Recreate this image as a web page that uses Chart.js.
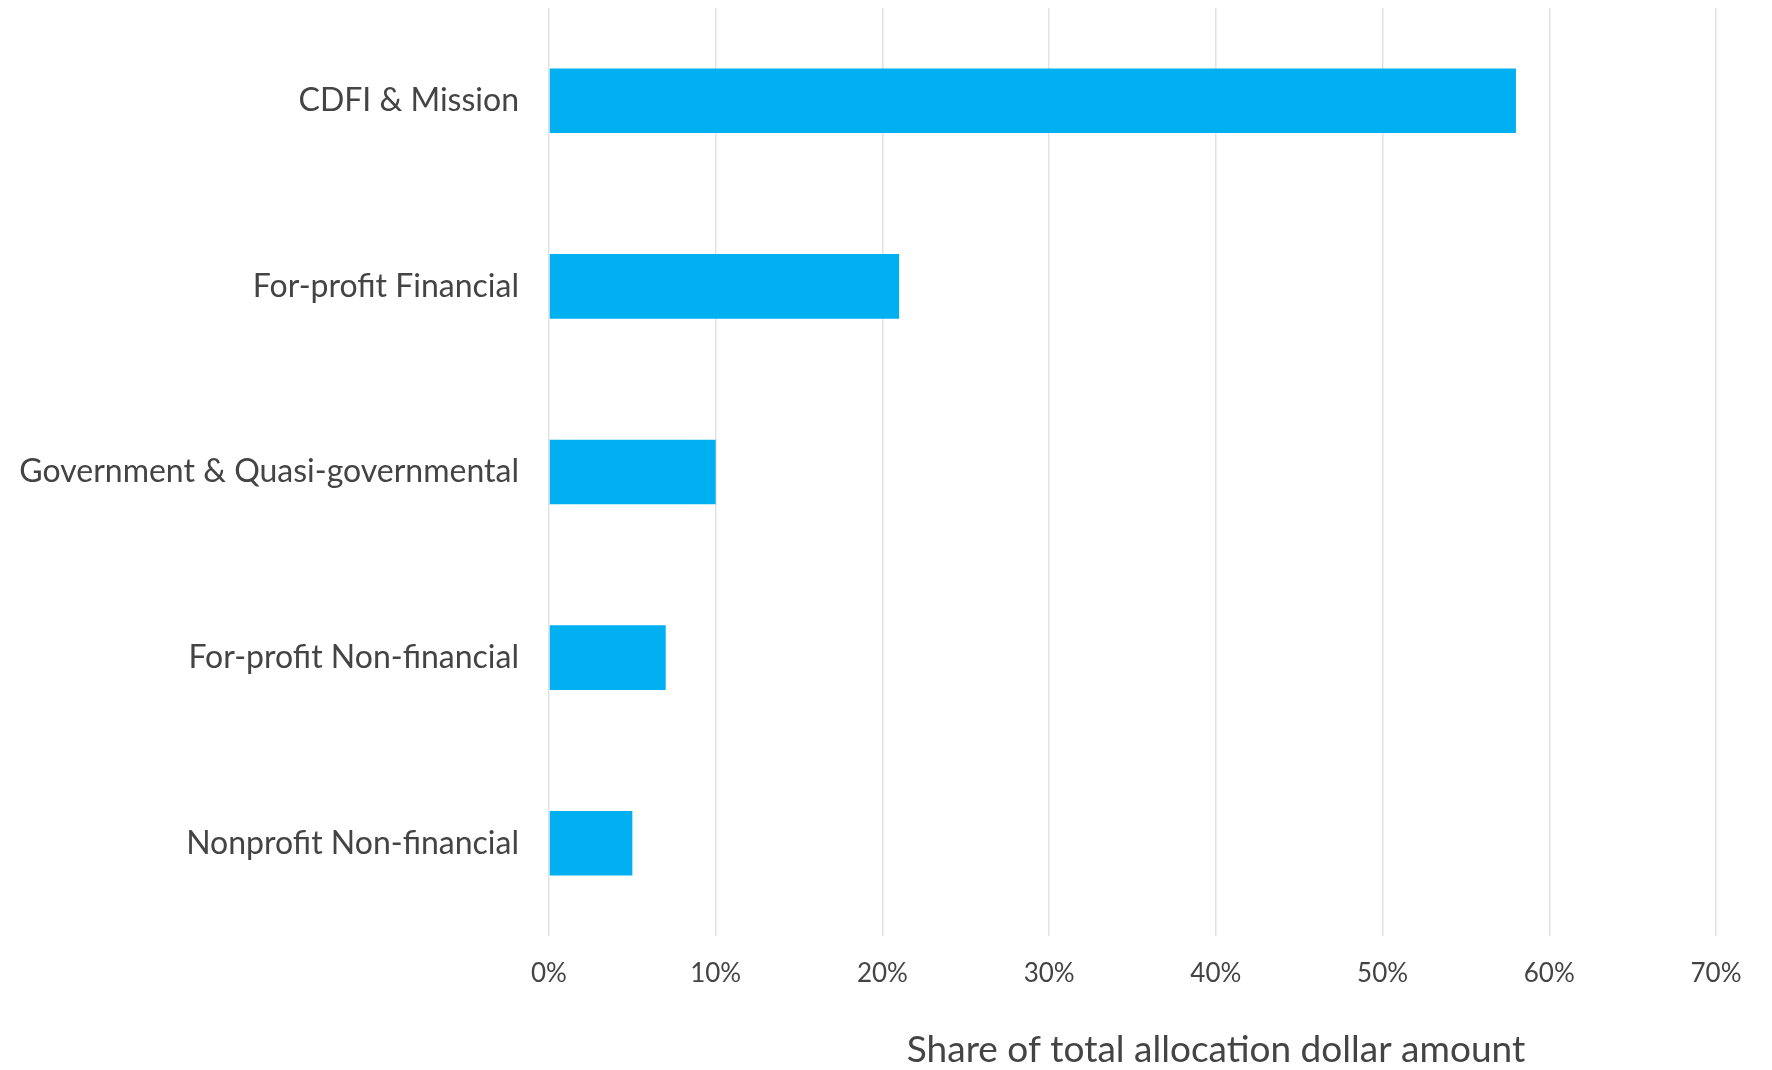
<!DOCTYPE html>
<html lang="en">
<head>
  <meta charset="UTF-8">
  <title>Share of Total Allocation by Organization Type</title>
  <script src="https://cdn.jsdelivr.net/npm/chart.js"></script>
  <style>
    html, body {
      margin: 0;
      padding: 0;
      background: #ffffff;
    }

    #chart-wrap {
      width: 1772px;
      height: 1070px;
      position: relative;
    }
  </style>
</head>
<body>
  <div id="chart-wrap">
    <canvas id="allocationChart"></canvas>
  </div>

  <script>
    const categories = [
      'CDFI & Mission',
      'For-profit Financial',
      'Government & Quasi-governmental',
      'For-profit Non-financial',
      'Nonprofit Non-financial'
    ];
    const shareValues = [58, 21, 10, 7, 5];
    const tickValues = [0, 10, 20, 30, 40, 50, 60, 70];
    const axisTitle = 'Share of total allocation dollar amount';

    const textColor = '#444444';
    const fontFamily = "Lato, 'Open Sans', sans-serif";

    // axis title sits below the ticks, shifted right of the plot centre
    const axisTitlePlugin = {
      id: 'axisTitle',
      afterDraw(chart) {
        const { ctx, chartArea } = chart;
        ctx.save();
        ctx.font = '37px ' + fontFamily;
        ctx.fillStyle = textColor;
        ctx.textAlign = 'center';
        ctx.textBaseline = 'alphabetic';
        ctx.fillText(axisTitle, chartArea.left + 667, chart.height - 8);
        ctx.restore();
      }
    };

    const chartConfig = {
      type: 'bar',
      data: {
        labels: categories,
        datasets: [{
          label: 'Share',
          data: shareValues,
          backgroundColor: '#00B0F0',
          borderWidth: 0,
          categoryPercentage: 1,
          barPercentage: 0.348
        }]
      },
      options: {
        indexAxis: 'y',
        responsive: true,
        maintainAspectRatio: false,
        animation: false,
        layout: {
          padding: { top: 8, right: 56, left: 0, bottom: 0 }
        },
        plugins: {
          legend: { display: false },
          tooltip: { enabled: false }
        },
        scales: {
          x: {
            min: 0,
            max: 70,
            afterBuildTicks(scale) {
              scale.ticks = tickValues.map(v => ({ value: v }));
            },
            afterFit(scale) {
              scale.height = 134;
            },
            grid: {
              color: '#e2e2e2',
              lineWidth: 1.5,
              drawTicks: false
            },
            border: { display: false },
            ticks: {
              color: textColor,
              font: { family: fontFamily, size: 26 },
              padding: 22,
              callback: value => value + '%'
            }
          },
          y: {
            afterFit(scale) {
              scale.width = 549;
              // labels sit mid-band, so no extra room is needed above the plot
              scale.paddingTop = 0;
              scale.paddingBottom = 0;
            },
            grid: { display: false, drawTicks: false },
            border: { display: false },
            ticks: {
              color: textColor,
              font: { family: fontFamily, size: 32 },
              padding: 30
            }
          }
        }
      },
      plugins: [axisTitlePlugin]
    };

    const ctx = document.getElementById('allocationChart').getContext('2d');
    new Chart(ctx, chartConfig);
  </script>
</body>
</html>
